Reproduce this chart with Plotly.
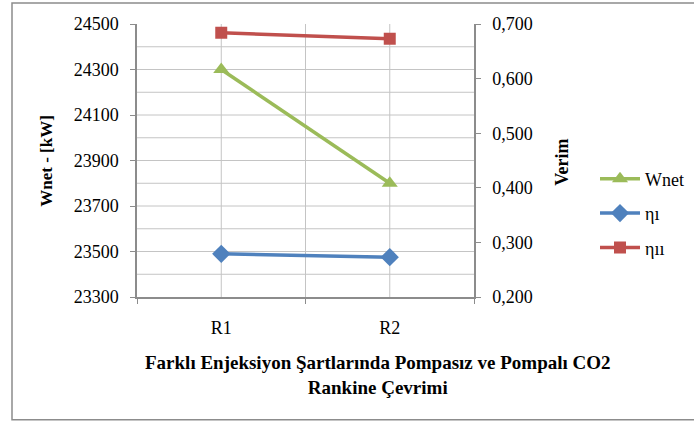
import plotly.graph_objects as go

# Cycle cases on the category axis
cases = ["R1", "R2"]
case_pos = [1, 2]

# Net work output [kW] (left axis)
wnet = [24300, 23800]
# First- and second-law efficiencies (right axis)
eta_1 = [0.279, 0.273]
eta_2 = [0.684, 0.673]

GREEN = "#9BBB59"
BLUE = "#4F81BD"
RED = "#C0504D"
GRID = "#C4C4C4"
AXIS = "#8C8C8C"
FONT = "Liberation Serif"

fig = go.Figure()
fig.add_trace(go.Scatter(
    x=case_pos, y=wnet, name="Wnet", mode="lines+markers",
    line=dict(color=GREEN, width=3.5),
    marker=dict(symbol="triangle-up", size=14, color=GREEN),
    legendgroup="a", yaxis="y"))
fig.add_trace(go.Scatter(
    x=case_pos, y=eta_1, name="ηı", mode="lines+markers",
    line=dict(color=BLUE, width=3.5),
    marker=dict(symbol="diamond", size=14, color=BLUE),
    legendgroup="b", yaxis="y2"))
fig.add_trace(go.Scatter(
    x=case_pos, y=eta_2, name="ηıı", mode="lines+markers",
    line=dict(color=RED, width=3.5),
    marker=dict(symbol="square", size=12, color=RED),
    legendgroup="c", yaxis="y2"))

fig.update_layout(
    width=694, height=421,
    margin=dict(l=137, r=220, t=24, b=124, autoexpand=False),
    paper_bgcolor="white", plot_bgcolor="white",
    separators=",.",
    font=dict(family=FONT, size=18, color="#000000"),
    showlegend=True,
    legend=dict(x=(595 - 137) / 337, y=0.5, xanchor="left", yanchor="top",
                font=dict(family=FONT, size=18),
                tracegroupgap=8, itemwidth=40,
                bgcolor="rgba(0,0,0,0)"),
    xaxis=dict(
        range=[0.5, 2.5], tickmode="array", tickvals=case_pos,
        ticktext=cases, showgrid=False, ticks="",
        showline=True, linecolor=AXIS, linewidth=1.5,
        ticklabelstandoff=14, zeroline=False,
        minor=dict(tick0=0.5, dtick=1, ticks="outside", ticklen=5,
                   tickcolor=AXIS, showgrid=False)),
    yaxis=dict(
        range=[23300, 24500], tickmode="linear", tick0=23300, dtick=200,
        tickformat="d", showgrid=False,
        ticks="outside", ticklen=5, tickcolor=AXIS,
        showline=True, linecolor=AXIS, linewidth=1.5,
        ticklabelstandoff=8, zeroline=False),
    yaxis2=dict(
        range=[0.2, 0.7], tickmode="linear", tick0=0.2, dtick=0.1,
        tickformat=".3f",
        overlaying="y", side="right", showgrid=False,
        ticks="outside", ticklen=5, tickcolor=AXIS,
        showline=True, linecolor=AXIS, linewidth=1.5,
        ticklabelstandoff=8, zeroline=False),
)

# Gridlines: every 100 kW horizontally, at the cases and between them vertically
for level in range(23400, 24500, 100):
    fig.add_shape(type="line", xref="x domain", yref="y",
                  x0=0, x1=1, y0=level, y1=level,
                  line=dict(color=GRID, width=1), layer="below")
for xv in (1, 1.5, 2):
    fig.add_shape(type="line", xref="x", yref="y domain",
                  x0=xv, x1=xv, y0=0, y1=1,
                  line=dict(color=GRID, width=1), layer="below")

# Axis titles
fig.add_annotation(text="<b>Wnet - [kW]</b>", textangle=-90,
                   xref="paper", yref="paper",
                   x=(47 - 137) / 337, y=(297 - 161) / 272.5,
                   xanchor="center", yanchor="middle",
                   showarrow=False, font=dict(family=FONT, size=17))
fig.add_annotation(text="<b>Verim</b>", textangle=-90,
                   xref="paper", yref="paper",
                   x=(562 - 137) / 337, y=(297 - 163) / 272.5,
                   xanchor="center", yanchor="middle",
                   showarrow=False, font=dict(family=FONT, size=18))
fig.add_annotation(
    text="<b>Farklı Enjeksiyon Şartlarında Pompasız ve Pompalı CO2</b><br><b>Rankine Çevrimi</b>",
    xref="paper", yref="paper",
    x=(378 - 137) / 337, y=(297 - 375) / 272.5,
    xanchor="center", yanchor="middle",
    showarrow=False, font=dict(family=FONT, size=19), align="center")

# Chart-area frame
fig.add_shape(type="rect", xref="paper", yref="paper",
              x0=(12 - 137) / 337, x1=(700 - 137) / 337,
              y0=(297 - 419.5) / 272.5, y1=(297 - 3.5) / 272.5,
              line=dict(color="#8C8C8C", width=1.5), layer="below")

fig.write_html("out.html")
